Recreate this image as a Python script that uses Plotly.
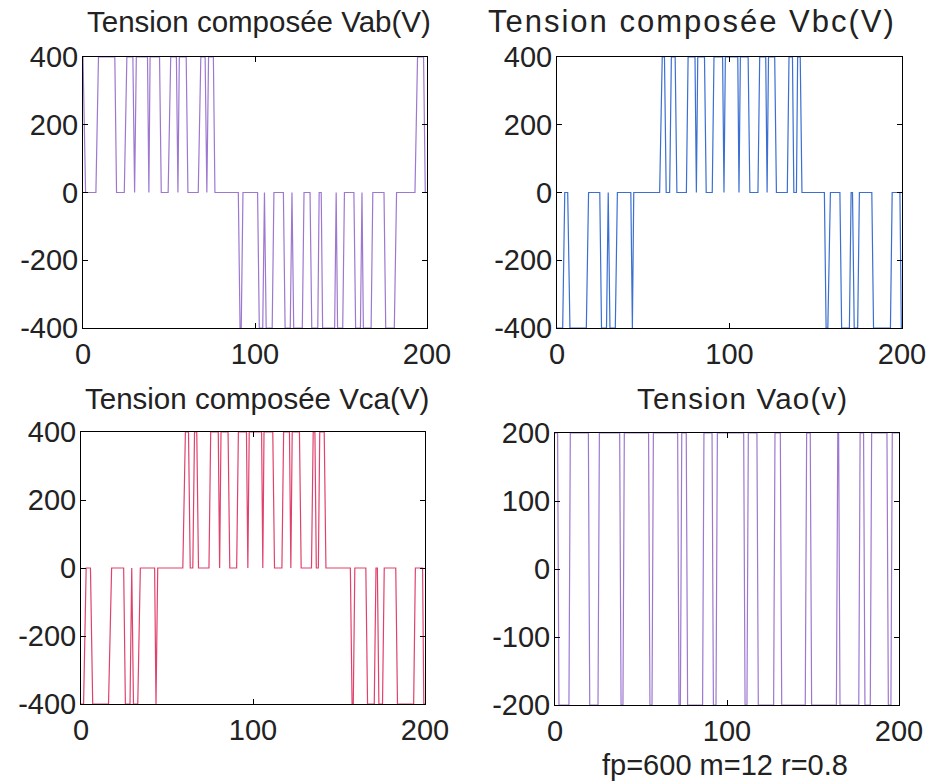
import plotly.graph_objects as go

# ---------------- data ----------------
x_ticks = [0, 100, 200]
y_ticks_line = [-400, -200, 0, 200, 400]
y_ticks_phase = [-200, -100, 0, 100, 200]

# Line voltage Vab : polyline vertices (sample index, volts)
vab_t = [0, 1.5, 7.5, 9, 18.5, 19.5, 24, 25.5, 29, 30, 31, 37.5, 38.3, 39,
         44.5, 45.5, 49.5, 51, 54.3, 55.2, 56, 60, 61, 67, 68.5, 71, 72, 73,
         75.8, 76.7, 90.3, 91.3, 92, 93, 101.5, 102.5, 104.5, 105.5, 106.5,
         110, 111, 116.5, 117.5, 120.5, 121.5, 122.5, 127.5, 128.5, 132, 133,
         136.5, 137.3, 138.5, 139.3, 146.3, 147.2, 148, 151, 152, 157.5, 158.5,
         161.3, 162.2, 163, 167.5, 168.5, 175, 176, 181, 182.3, 193, 194.5,
         198, 199, 200]
vab_v = [400, 0, 0, 400, 400, 0, 0, 400, 400, 0, 400, 400, 0, 400,
         400, 0, 0, 400, 400, 0, 400, 400, 0, 0, 400, 400, 0, 400,
         400, 0, 0, -400, -400, 0, 0, -400, -400, 0, -400,
         -400, 0, 0, -400, -400, 0, -400, -400, 0, 0, -400,
         -400, 0, 0, -400, -400, 0, -400, -400, 0, 0, -400,
         -400, 0, -400, -400, 0, 0, -400, -400, 0, 0, 400,
         400, 0, 0]

# Line voltage Vbc
vbc_t = [0, 3.3, 4.5, 6.2, 7.5, 17, 18.3, 24.8, 25.8, 28.7, 29.7, 30.7,
         33.8, 35, 42.8, 43.7, 44.5, 59.5, 61, 62.3, 63.3, 65.3, 66.3,
         68.5, 69.5, 75, 76, 80, 80.8, 81.6, 85.5, 86.5, 90, 91, 96, 96.8, 97.6,
         104.8, 105.5, 106.3, 110.8, 111.8, 116.5, 117.5, 121, 121.8, 122.6,
         126.2, 127.2, 133.5, 134.5, 136.5, 137.3, 138.8, 139.5, 141, 142,
         155, 156, 157, 158.5, 164, 165, 169.5, 170.5, 171.3, 172.3,
         174.3, 175.3, 182.5, 183.5, 193.3, 194.3, 198.8, 199.6, 200]
vbc_v = [-400, -400, 0, 0, -400, -400, 0, 0, -400, -400, 0, -400,
         -400, 0, 0, -400, 0, 0, 400, 400, 0, 0, 400,
         400, 0, 0, 400, 400, 0, 400, 400, 0, 0, 400, 400, 0, 400,
         400, 0, 400, 400, 0, 0, 400, 400, 0, 400,
         400, 0, 0, 400, 400, 0, 0, 400, 400, 0,
         0, -400, -400, 0, 0, -400, -400, 0, 0, -400,
         -400, 0, 0, -400, -400, 0, 0, -400, -400]

# Line voltage Vca
vca_t = [0, 1.5, 3, 5.5, 6.8, 16, 17.8, 24.8, 25.8, 28.5, 29.5, 30.5,
         33, 34.5, 42.8, 43.6, 44.6, 59.2, 60.7, 62.5, 63.5, 65, 66,
         67.3, 68.3, 74.4, 75.4, 79.8, 80.6, 81.4, 85.5, 86.5, 90.5, 91.5,
         96.2, 97, 97.8, 105, 105.7, 106.4, 111.5, 112.5, 116.8, 117.8,
         121.2, 122, 122.8, 127, 128, 134, 135, 136, 136.8, 138, 138.8,
         141.4, 142.4, 156.6, 157.6, 158.3, 159.2, 165.6, 166.6,
         170.5, 171.5, 172.3, 173.2, 175.3, 176.3, 183, 184, 193.4, 194.4,
         198.6, 199.3, 200]
vca_v = [-400, -400, 0, 0, -400, -400, 0, 0, -400, -400, 0, -400,
         -400, 0, 0, -400, 0, 0, 400, 400, 0, 0, 400,
         400, 0, 0, 400, 400, 0, 400, 400, 0, 0, 400,
         400, 0, 400, 400, 0, 400, 400, 0, 0, 400,
         400, 0, 400, 400, 0, 0, 400, 400, 0, 0, 400,
         400, 0, 0, -400, -400, 0, 0, -400,
         -400, 0, 0, -400, -400, 0, 0, -400, -400, 0,
         0, -400, -400]

# Phase voltage Vao : switching instants and initial level
vao_switch = [1.9, 8.5, 19.8, 25.4, 38.0, 39.9, 54.8, 56.8, 71.7, 73.3,
              76.7, 86.2, 91.7, 94.0, 110.1, 112.0, 117.8, 127.5, 131.4,
              145.9, 148.8, 164.0, 165.3, 177.0, 179.8, 183.7, 193.4, 195.7]
vao_start = 200

titles = ["Tension composée Vab(V)", "Tension composée Vbc(V)",
          "Tension composée Vca(V)", "Tension Vao(v)"]
note = "fp=600 m=12 r=0.8"

col_vab = "#9d78d0"
col_vbc = "#3b6fd2"
col_vca = "#e0426c"
col_vao = "#9d78d0"

# ---------------- build Vao polyline from switching instants ----------------
vao_t, vao_v = [0], [vao_start]
lvl = vao_start
for s in vao_switch:
    vao_t += [s - 0.4, s + 0.4]
    vao_v += [lvl, -lvl]
    lvl = -lvl
vao_t.append(200)
vao_v.append(lvl)

# ---------------- figure ----------------
W, H = 931, 784
FONT = "Liberation Sans, Arial, sans-serif"
TXT = "#222222"

fig = go.Figure()
series = [(vab_t, vab_v, col_vab, "x", "y"),
          (vbc_t, vbc_v, col_vbc, "x2", "y2"),
          (vca_t, vca_v, col_vca, "x3", "y3"),
          (vao_t, vao_v, col_vao, "x4", "y4")]
for t, v, c, xa, ya in series:
    fig.add_trace(go.Scatter(x=t, y=v, mode="lines", xaxis=xa, yaxis=ya,
                             line=dict(color=c, width=1.2), showlegend=False,
                             hoverinfo="skip"))

# plot boxes in pixels (left, right, top, bottom)
boxes = [(83, 427, 57, 328), (557, 902, 57, 328),
         (81, 425, 432, 704), (555, 899, 433, 705)]

def xd(a, b):
    return [a / W, b / W]

def yd(top, bot):
    return [1 - bot / H, 1 - top / H]

axis_common = dict(showline=True, linecolor="black", linewidth=1, mirror="ticks",
                   ticks="inside", ticklen=5, tickcolor="black", showgrid=False,
                   zeroline=False, automargin=False,
                   tickfont=dict(family=FONT, size=29, color=TXT))

layout = dict(width=W, height=H,
              margin=dict(l=0, r=0, t=0, b=0, pad=0, autoexpand=False),
              paper_bgcolor="white", plot_bgcolor="white",
              font=dict(family=FONT, size=29, color=TXT))
for i, (l, r, tp, bt) in enumerate(boxes):
    sx = "" if i == 0 else str(i + 1)
    yt = y_ticks_phase if i == 3 else y_ticks_line
    yr = [-200, 200] if i == 3 else [-400, 400]
    layout["xaxis" + sx] = dict(domain=xd(l, r), range=[0, 200], tickvals=x_ticks,
                                ticktext=[str(v) for v in x_ticks],
                                anchor="y" + sx, ticklabelstandoff=0, **axis_common)
    layout["yaxis" + sx] = dict(domain=yd(tp, bt), range=yr, tickvals=yt,
                                ticktext=[str(v) for v in yt],
                                anchor="x" + sx, ticklabelstandoff=-2, **axis_common)
fig.update_layout(**layout)

title_style = [(259, 22, 29.5, 0), (692, 22, 31, 2), (257, 398, 29.5, 0), (742, 398, 29.5, 1.2)]
for txt, (cx, cy, fs, ls) in zip(titles, title_style):
    label = txt if ls == 0 else '<span style="letter-spacing:%gpx">%s</span>' % (ls, txt)
    fig.add_annotation(text=label, x=cx / W, y=1 - cy / H, xref="paper", yref="paper",
                       showarrow=False, xanchor="center", yanchor="middle",
                       font=dict(family=FONT, size=fs, color=TXT))
fig.add_annotation(text=note, x=725 / W, y=1 - 765 / H, xref="paper", yref="paper",
                   showarrow=False, xanchor="center", yanchor="middle",
                   font=dict(family=FONT, size=29, color=TXT))

fig.write_html("out.html")
